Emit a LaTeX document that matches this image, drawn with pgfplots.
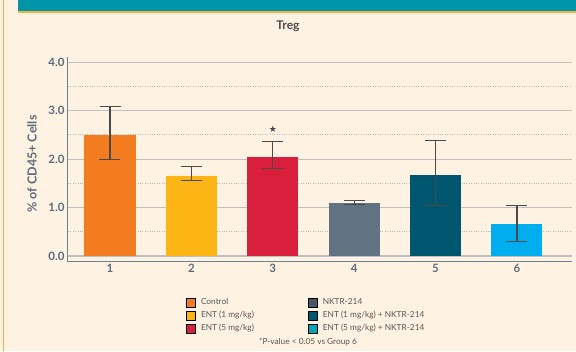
\documentclass[border=0pt]{standalone}
\usepackage{pgfplots}
\pgfplotsset{compat=1.18}
\usepackage{fontspec}
\setmainfont{Lato}
\newfontfamily\symfont{DejaVu Sans}
\definecolor{bg}{HTML}{FEF3E3}
\definecolor{bandteal}{HTML}{0095A8}
\definecolor{borderor}{HTML}{F6B13C}
\definecolor{cControl}{HTML}{F47C20}
\definecolor{cEntA}{HTML}{FDB515}
\definecolor{cEntB}{HTML}{DA1F3D}
\definecolor{cNktr}{HTML}{617282}
\definecolor{cComboA}{HTML}{00556F}
\definecolor{cComboB}{HTML}{00ADEE}
\definecolor{lNktr}{HTML}{4B5764}
\definecolor{lComboB}{HTML}{00A5BA}
\definecolor{axcol}{HTML}{6E8193}
\definecolor{labcol}{HTML}{5B6B7C}
\definecolor{gridc}{HTML}{C0C0C0}
\definecolor{minorc}{HTML}{BDB6AE}
\definecolor{zeroc}{HTML}{D8D3CB}
\definecolor{errc}{HTML}{4A4A4A}
\definecolor{titlec}{HTML}{4A4A4A}
\definecolor{legtext}{HTML}{555555}
\definecolor{starc}{HTML}{3D4A5A}
\pgfplotsset{sq legend/.style={legend image code/.code={\fill[##1] (0pt,-4.5pt) rectangle (9pt,4.5pt);}}}
\pgfplotsset{errstyle/.style={error bars/.cd, y dir=both, y explicit,
  error bar style={errc, line width=1.1pt},
  error mark options={errc, line width=1.1pt, mark size=10.5pt, rotate=90}}}
\begin{document}
\begin{tikzpicture}[x=1pt,y=1pt]
\fill[bg] (0,0) rectangle (576,351);
\useasboundingbox (0,0) rectangle (576,351);
\fill[bandteal] (18,339.5) rectangle (576,351);
\fill[borderor] (18,338) rectangle (576,339.5);
\fill[borderor] (2.5,0) rectangle (4.3,351);
\node[font=\bfseries\fontsize{12}{13}\selectfont, text=titlec, anchor=base] at (288,321.7) {Treg};
\begin{axis}[
  at={(68pt,89.3pt)}, anchor=south west,
  scale only axis, width=504pt, height=204.4pt,
  xmin=0.484, xmax=6.676, ymin=-0.118, ymax=4.1,
  axis x line*=bottom, axis y line*=left,
  axis line style={axcol, line width=1pt},
  xtick={1,2,3,4,5,6}, ytick={0,1,2,3,4},
  minor y tick num=1,
  major tick length=0pt, minor tick length=0pt,
  ymajorgrids, yminorgrids,
  major grid style={gridc, line width=1.1pt},
  minor grid style={minorc, dotted, line width=0.9pt},
  extra y ticks={0}, extra y tick labels={},
  extra y tick style={grid style={zeroc, line width=2pt}},
  /pgf/number format/assume math mode=true,
  yticklabel style={/pgf/number format/.cd, fixed, fixed zerofill, precision=1},
  tick label style={font=\bfseries\fontsize{11.5}{12}\selectfont, text=labcol},
  xticklabel style={yshift=1pt},
  ylabel={\% of CD45+ Cells},
  every axis y label/.style={at={(axis description cs:-0.0714,0.478)}, rotate=90, anchor=center,
    font=\bfseries\fontsize{12.5}{13}\selectfont, text=labcol},
  legend columns=2,
  legend cell align=left,
  legend style={draw=none, fill=none, at={(axis description cs:0.228,-0.160)}, anchor=north west,
    font=\fontsize{8.3}{9}\selectfont, text=legtext, row sep=1.2pt,
    /tikz/every odd column/.append style={column sep=3.5pt},
    /tikz/every even column/.append style={column sep=52pt}},
]
\addplot[ybar, bar width=51pt, bar shift=0pt, fill=cControl, draw=none, forget plot, errstyle]
  coordinates {(1,2.50) += (0,0.58) -= (0,0.50)};
\addplot[ybar, bar width=51pt, bar shift=0pt, fill=cEntA, draw=none, forget plot, errstyle]
  coordinates {(2,1.65) += (0,0.20) -= (0,0.09)};
\addplot[ybar, bar width=51pt, bar shift=0pt, fill=cEntB, draw=none, forget plot, errstyle]
  coordinates {(3,2.05) += (0,0.31) -= (0,0.25)};
\addplot[ybar, bar width=51pt, bar shift=0pt, fill=cNktr, draw=none, forget plot, errstyle]
  coordinates {(4,1.10) += (0,0.05) -= (0,0.04)};
\addplot[ybar, bar width=51pt, bar shift=0pt, fill=cComboA, draw=none, forget plot, errstyle]
  coordinates {(5,1.67) += (0,0.72) -= (0,0.63)};
\addplot[ybar, bar width=51pt, bar shift=0pt, fill=cComboB, draw=none, forget plot, errstyle]
  coordinates {(6,0.66) += (0,0.38) -= (0,0.37)};
\node[text=starc, font=\symfont\fontsize{9}{9}\selectfont] at (axis cs:3,2.62) {★};
\addlegendimage{sq legend, fill=cControl}
\addlegendentry{Control}
\addlegendimage{sq legend, fill=lNktr}
\addlegendentry{NKTR-214}
\addlegendimage{sq legend, fill=cEntA}
\addlegendentry{ENT (1 mg/kg)}
\addlegendimage{sq legend, fill=cComboA}
\addlegendentry{ENT (1 mg/kg) + NKTR-214}
\addlegendimage{sq legend, fill=cEntB}
\addlegendentry{ENT (5 mg/kg)}
\addlegendimage{sq legend, fill=lComboB}
\addlegendentry{ENT (5 mg/kg) + NKTR-214}
\end{axis}
\node[font=\fontsize{8.3}{9}\selectfont, text=legtext] at (308,9) {*P-value < 0.05 vs Group 6};
\end{tikzpicture}
\end{document}
